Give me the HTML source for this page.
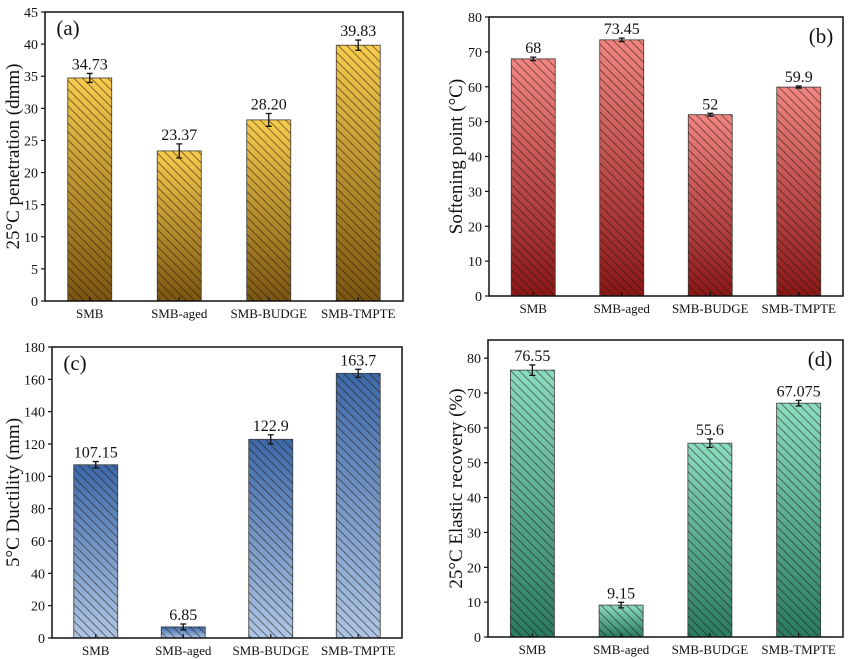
<!DOCTYPE html>
<html><head><meta charset="utf-8"><style>
html,body{margin:0;padding:0;background:#fff;}
svg{display:block;font-family:"Liberation Serif",serif;}
</style></head><body>
<svg id="chart" width="849" height="659" viewBox="0 0 849 659" xmlns="http://www.w3.org/2000/svg">
<defs>
<linearGradient id="gA" x1="0" y1="0" x2="0" y2="1"><stop offset="0" stop-color="#f8cc4e"/><stop offset="1" stop-color="#7a5510"/></linearGradient>
<linearGradient id="gB" x1="0" y1="0" x2="0" y2="1"><stop offset="0" stop-color="#f28682"/><stop offset="1" stop-color="#8a1616"/></linearGradient>
<linearGradient id="gC" x1="0" y1="0" x2="0" y2="1"><stop offset="0" stop-color="#3d69a8"/><stop offset="1" stop-color="#afc6e4"/></linearGradient>
<linearGradient id="gD" x1="0" y1="0" x2="0" y2="1"><stop offset="0" stop-color="#8cdcc0"/><stop offset="1" stop-color="#2a7a62"/></linearGradient>
<pattern id="hatch" patternUnits="userSpaceOnUse" width="6" height="6" patternTransform="rotate(45)">
<line x1="0" y1="3" x2="6" y2="3" stroke="rgba(30,20,10,0.6)" stroke-width="0.9"/>
</pattern>
</defs>
</svg>
<script>
const categories = ["SMB","SMB-aged","SMB-BUDGE","SMB-TMPTE"];
const valuesA = [34.73, 23.37, 28.20, 39.83];
const labelsA = ["34.73","23.37","28.20","39.83"];
const errA = [0.7, 1.1, 1.0, 0.8];
const ticksA = [0,5,10,15,20,25,30,35,40,45];
const valuesB = [68, 73.45, 52, 59.9];
const labelsB = ["68","73.45","52","59.9"];
const errB = [0.5, 0.5, 0.4, 0.3];
const ticksB = [0,10,20,30,40,50,60,70,80];
const valuesC = [107.15, 6.85, 122.9, 163.7];
const labelsC = ["107.15","6.85","122.9","163.7"];
const errC = [2, 1.8, 2.8, 2.5];
const ticksC = [0,20,40,60,80,100,120,140,160,180];
const valuesD = [76.55, 9.15, 55.6, 67.075];
const labelsD = ["76.55","9.15","55.6","67.075"];
const errD = [1.5, 0.8, 1.2, 0.8];
const ticksD = [0,10,20,30,40,50,60,70,80];

const NS = "http://www.w3.org/2000/svg";
const svg = document.getElementById('chart');
function mk(tag, attrs, parent){const e=document.createElementNS(NS,tag);for(const k in attrs)e.setAttribute(k,attrs[k]);(parent||svg).appendChild(e);return e;}

function panel(p){
  const g = mk('g',{});
  
  
  const y = v => p.bottom - (v - 0) / (p.ymax) * (p.bottom - p.top);
  const slot = (p.right - p.left) / 4;
  const x = i => p.left + slot * (i + 0.5);
  const bw = 44;
  p.values.forEach((v,i)=>{
    const r = mk('rect',{x:x(i)-bw/2,y:y(v),width:bw,height:y(0)-y(v),fill:'url(#'+p.grad+')',stroke:'#3a3a3a','stroke-width':0.8},g);
    
    
    const h = mk('rect',{x:x(i)-bw/2,y:y(v),width:bw,height:y(0)-y(v),fill:'url(#hatch)'},g);
    
    
    const e = p.err[i];
    const eb = mk('path',{d:`M${x(i)},${y(v+e)}V${y(v-e)}M${x(i)-3},${y(v+e)}H${x(i)+3}M${x(i)-3},${y(v-e)}H${x(i)+3}`,stroke:'#111','stroke-width':1.3,fill:'none'},g);
    
    
    const t = mk('text',{x:x(i),y:y(v+e)-4,'text-anchor':'middle','font-size':16,fill:'#111'},g);
    t.textContent = p.labels[i];
    
    
    const tk = mk('line',{x1:x(i),x2:x(i),y1:p.bottom,y2:p.bottom-4,stroke:'#111','stroke-width':1.2},g);
    
    
    const cl = mk('text',{x:x(i),y:p.bottom+17,'text-anchor':'middle','font-size':13,fill:'#111'},g);
    cl.textContent = categories[i];
    
    
  });
  p.ticks.forEach(t=>{
    const tk = mk('line',{x1:p.left,x2:p.left-4,y1:y(t),y2:y(t),stroke:'#111','stroke-width':1.2},g);
    
    
    const tl = mk('text',{x:p.left-7,y:y(t)+5,'text-anchor':'end','font-size':14,fill:'#111'},g);
    tl.textContent = t;
    
    
  });
  const box = mk('rect',{x:p.left,y:p.top,width:p.right-p.left,height:p.bottom-p.top,fill:'none',stroke:'#111','stroke-width':1.5},g);
  
  
  const cy = (p.top+p.bottom)/2;
  const yl = mk('text',{x:p.ylx,y:cy,'text-anchor':'middle','font-size':19,fill:'#111',transform:`rotate(-90 ${p.ylx} ${cy})`},g);
  yl.textContent = p.ylabel;
  
  
  const pl = mk('text',{x:p.lx,y:p.ly,'text-anchor':'middle','font-size':21,fill:'#111'},g);
  pl.textContent = '(' + p.id + ')';
  
  
}

panel({id:'a',left:45,right:403,top:12,bottom:301,ymax:45,values:valuesA,labels:labelsA,err:errA,ticks:ticksA,grad:'gA',ylabel:'25°C penetration (dmm)',ylx:19,lx:68,ly:35});
panel({id:'b',left:489,right:843,top:17,bottom:296,ymax:80,values:valuesB,labels:labelsB,err:errB,ticks:ticksB,grad:'gB',ylabel:'Softening point (°C)',ylx:462,lx:821,ly:43});
panel({id:'c',left:52,right:402,top:347,bottom:638,ymax:180,values:valuesC,labels:labelsC,err:errC,ticks:ticksC,grad:'gC',ylabel:'5°C Ductility (mm)',ylx:19,lx:75,ly:370});
panel({id:'d',left:488,right:843,top:340,bottom:637,ymax:85.2,values:valuesD,labels:labelsD,err:errD,ticks:ticksD,grad:'gD',ylabel:'25°C Elastic recovery (%)',ylx:462,lx:820,ly:366});
</script>
</body></html>
